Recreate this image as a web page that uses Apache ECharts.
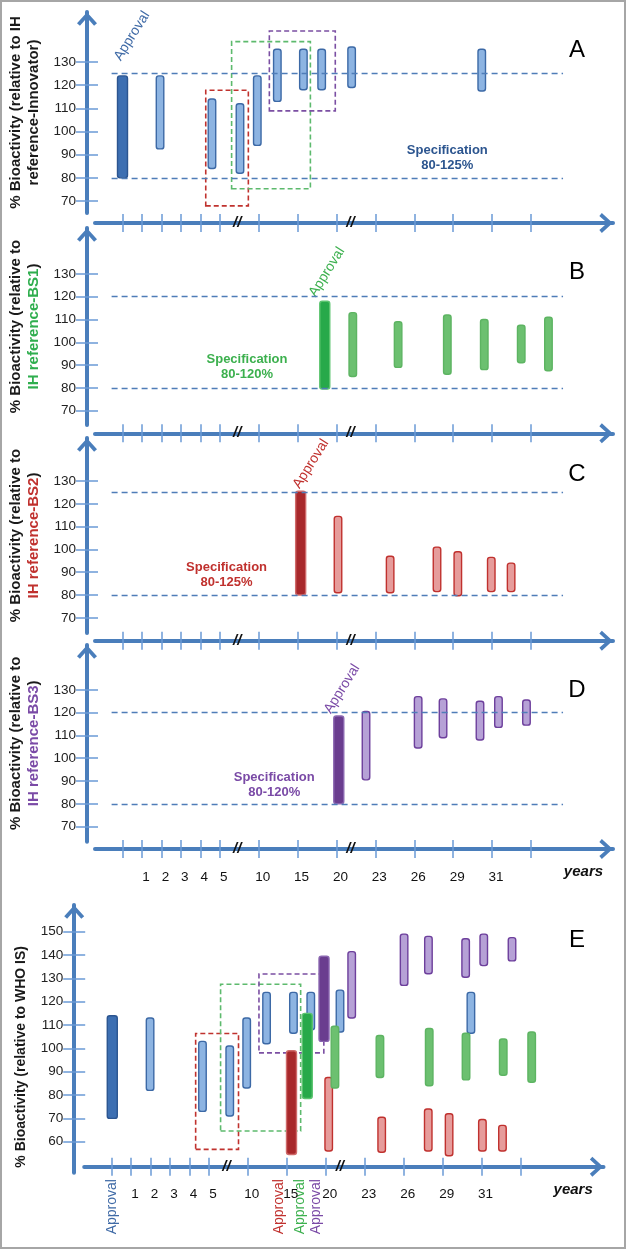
<!DOCTYPE html>
<html><head><meta charset="utf-8">
<script src="https://cdn.jsdelivr.net/npm/echarts@6/dist/echarts.min.js"></script>
<style>html,body{margin:0;padding:0;background:#fff}#c{width:628px;height:1252px}</style>
</head><body><div id="c"></div>
<script>
// ---------------- DATA ----------------
// x positions are "slots" of the broken time axis (tick slots below)
const X_TICK_VALUES = [0,1,2,3,4,5,7,9,11,13,15,17,19,21];
const X_LABEL_VALUES = [1,2,3,4,5,7,9,11,13,15,17,19];
const X_LABEL_TEXTS = ['1','2','3','4','5','10','15','20','23','26','29','31'];
const Y_TICKS_AD = [70,80,90,100,110,120,130];
const Y_TICKS_E = [60,70,80,90,100,110,120,130,140,150];
const AXIS_BREAKS = [5.9, 11.72];
const SPEC_X_RANGE = [-0.56, 22.65];

// [slot, low %, high %]
const A_BLUE_APPROVAL = [[0.0, 80, 124]];
const A_BLUE = [[1.93,92.5,124],[4.6,84,114],[6.04,82,112],[6.93,94,124],[7.96,113,135.5],[9.3,118,135.5],[10.24,118,135.5],[11.78,119,136.5],[18.47,117.5,135.5]];
const B_GREEN_APPROVAL = [[10.4,79.5,118]];
const B_GREEN = [[11.84,85,113],[14.17,89,109],[16.7,86,112],[18.6,88,110],[20.5,91,107.5],[21.9,87.5,111]];
const C_RED_APPROVAL = [[9.16,80,125.5]];
const C_RED = [[11.08,81,114.5],[13.76,81,97],[16.17,81.5,101],[17.24,79.7,99],[18.96,81.5,96.5],[19.98,81.5,94]];
const D_PURPLE_APPROVAL = [[11.12,80,118.5]];
const D_PURPLE = [[12.52,90.5,120.5],[15.2,104.5,127],[16.48,109,126],[18.38,108,125],[19.33,113.5,127],[20.77,114.5,125.5]];
const E_BLUE_APPROVAL = [[0.04,70,114]];
const E_BLUE = [[1.98,82,113],[4.67,73,103],[6.07,71,101],[6.94,83,113],[7.96,102,124],[9.34,106.5,124],[10.23,108,124],[11.73,107,125],[18.45,106.5,124]];
const E_RED_APPROVAL = [[9.24,54.5,99]];
const E_RED = [[11.15,56,87.5],[13.87,55.5,70.5],[16.26,56,74],[17.33,54,72],[19.04,56,69.5],[20.07,56,67]];
const E_GREEN_APPROVAL = [[10.05,78.5,115]];
const E_GREEN = [[11.47,83,109.5],[13.78,87.5,105.5],[16.31,84,108.5],[18.2,86.5,106.5],[20.11,88.5,104],[21.57,85.5,107]];
const E_PURPLE_APPROVAL = [[10.91,103,139.5]];
const E_PURPLE = [[12.33,113,141.5],[15.02,127,149],[16.27,132,148],[18.18,130.5,147],[19.11,135.5,149],[20.56,137.5,147.5]];

const SPEC_A = [80,125], SPEC_B = [80,120], SPEC_C = [80,125], SPEC_D = [80,120];
const SPEC_TEXT = ['80-125%','80-120%','80-125%','80-120%'];
const SPEC_TEXT_POS = [[16.7,88.5],[6.4,89.3],[5.35,88.8],[7.8,88.3]];
const APPROVAL_LABEL_POS = [[0.49,141.2],[10.51,130.8],[9.69,137.5],[11.29,130.4]];
const E_APPROVAL_LABEL_X = {blue:0.03, red:8.62, green:9.66, purple:10.49};
// dashed boxes: [[x0,y0],[x1,y1]]
const A_BOX_RED = [[4.28,67.9],[6.47,117.8]];
const A_BOX_GREEN = [[5.61,75.3],[9.66,138.8]];
const A_BOX_PURPLE = [[7.55,108.9],[10.94,143.4]];
const E_BOX_RED = [[4.32,56.7],[6.52,106.4]];
const E_BOX_GREEN = [[5.6,64.6],[9.71,127.5]];
const E_BOX_PURPLE = [[7.57,98.1],[10.9,131.9]];

// ---------------- STYLE / LAYOUT ----------------
const FONT = "'Liberation Sans', Arial, Helvetica, sans-serif";
const AXIS_COLOR = '#4a7ebb', TICK_COLOR = '#6b9bd6', SPEC_LINE = '#4f7db8';
const COL = {
  blue:  {fill:'#8db4e2', stroke:'#3c69a6', aFill:'#3d6fb2', aStroke:'#2c5590', text:'#3f6aa6'},
  green: {fill:'#6cc070', stroke:'#5db462', aFill:'#27a94a', aStroke:'#5cc470', text:'#3cb04e'},
  red:   {fill:'#e69c9b', stroke:'#c0312e', aFill:'#a8282b', aStroke:'#cf6a6a', text:'#c0312e'},
  purple:{fill:'#b6a1d6', stroke:'#6d3f9c', aFill:'#6a3d8f', aStroke:'#8a66b0', text:'#7a4aa6'}
};
const BOXCOL = {red:'#c0322e', green:'#5dba6d', purple:'#7b4fa3'};
const CHEVRON = 'path://M12,0 L24,13 L20.5,16 L12,6.5 L3.5,16 L0,13 Z';

const LAYOUT = [
  {tip:12,  ybot:213,    xaxisY:223,    y100:131.5,  k:2.317, axisX:87,   left:95,   tipX:613,   x0:122.5, unit:19.45, letterY:50},
  {tip:228, ybot:425,    xaxisY:433.3,  y100:342.3,  k:2.28,  axisX:87,   left:95,   tipX:613,   x0:122.5, unit:19.45, letterY:272},
  {tip:438, ybot:633,    xaxisY:640.7,  y100:549.4,  k:2.28,  axisX:87,   left:95,   tipX:613,   x0:122.5, unit:19.45, letterY:474},
  {tip:645, ybot:841.7,  xaxisY:849,    y100:758.2,  k:2.28,  axisX:87,   left:95,   tipX:613,   x0:122.5, unit:19.45, letterY:690},
  {tip:905, ybot:1172.7, xaxisY:1166.7, y100:1048.4, k:2.333, axisX:74.2, left:84.2, tipX:603.5, x0:111.5, unit:19.48, letterY:940}
];

const PANELS = [
  {letter:'A', groups:[{c:'blue', data:A_BLUE, appr:A_BLUE_APPROVAL}], spec:SPEC_A,
   boxes:[['red',A_BOX_RED],['green',A_BOX_GREEN],['purple',A_BOX_PURPLE]], yTicks:Y_TICKS_AD, labels:false,
   name:'{k|% Bioactivity (relative to IH}\n{k|reference-Innovator)}', nameC:'#222', mainColor:'blue'},
  {letter:'B', groups:[{c:'green', data:B_GREEN, appr:B_GREEN_APPROVAL}], spec:SPEC_B, boxes:[], yTicks:Y_TICKS_AD, labels:false,
   name:'{k|% Bioactivity (relative to}\n{c|IH reference-BS1}{k|)}', nameC:'#2fae4e', mainColor:'green'},
  {letter:'C', groups:[{c:'red', data:C_RED, appr:C_RED_APPROVAL}], spec:SPEC_C, boxes:[], yTicks:Y_TICKS_AD, labels:false,
   name:'{k|% Bioactivity (relative to}\n{c|IH reference-BS2}{k|)}', nameC:'#c0312e', mainColor:'red'},
  {letter:'D', groups:[{c:'purple', data:D_PURPLE, appr:D_PURPLE_APPROVAL}], spec:SPEC_D, boxes:[], yTicks:Y_TICKS_AD, labels:true,
   name:'{k|% Bioactivity (relative to}\n{c|IH reference-BS3}{k|)}', nameC:'#7a4aa6', mainColor:'purple'},
  {letter:'E', groups:[{c:'blue', data:E_BLUE, appr:E_BLUE_APPROVAL},{c:'red', data:E_RED, appr:E_RED_APPROVAL},
                       {c:'green', data:E_GREEN, appr:E_GREEN_APPROVAL},{c:'purple', data:E_PURPLE, appr:E_PURPLE_APPROVAL}],
   spec:null, boxes:[['red',E_BOX_RED],['green',E_BOX_GREEN],['purple',E_BOX_PURPLE]], yTicks:Y_TICKS_E, labels:true,
   name:'{k|% Bioactivity (relative to WHO IS)}', nameC:'#222', mainColor:'blue'}
];

function barRenderer(fill, stroke, w, lw) {
  return function (params, api) {
    const x = api.value(0), lo = api.value(1), hi = api.value(2);
    const pT = api.coord([x, hi]), pB = api.coord([x, lo]);
    return {type:'rect', shape:{x:pT[0]-w/2, y:pT[1], width:w, height:pB[1]-pT[1], r:2.5},
            style:{fill:fill, stroke:stroke, lineWidth:lw}};
  };
}

const grids = [], xAxes = [], yAxes = [], series = [];
PANELS.forEach((P, i) => {
  const L = LAYOUT[i];
  const ymin = 100 - (L.ybot - L.y100) / L.k, ymax = 100 + (L.y100 - L.tip) / L.k;
  const xmin = (L.left - L.x0) / L.unit, xmax = (L.tipX - L.x0) / L.unit;
  grids.push({left:L.left, top:L.tip, width:L.tipX - L.left, height:L.ybot - L.tip, containLabel:false, outerBoundsMode:'none'});
  const xOff = L.xaxisY - L.ybot, yOff = L.left - L.axisX;
  xAxes.push({type:'value', gridIndex:i, position:'bottom', offset:xOff, min:xmin, max:xmax,
    axisLine:{show:true, onZero:false, lineStyle:{color:AXIS_COLOR, width:4}, symbol:['none', CHEVRON], symbolSize:[20,15], symbolOffset:[0,-7]},
    axisTick:{show:true, length:9, customValues:X_TICK_VALUES, lineStyle:{color:TICK_COLOR, width:1.5}},
    axisLabel:{show:P.labels, customValues:X_LABEL_VALUES, margin:21, color:'#111', fontSize:13.5, fontFamily:FONT,
      padding:[0,0,0,8], formatter:v => { const j = X_LABEL_VALUES.indexOf(v); return j >= 0 ? X_LABEL_TEXTS[j] : ''; }},
    splitLine:{show:false}});
  xAxes.push({type:'value', gridIndex:i, position:'bottom', offset:xOff, min:xmin, max:xmax,
    axisLine:{show:false, onZero:false}, axisLabel:{show:false}, splitLine:{show:false},
    axisTick:{show:true, inside:true, length:9, customValues:X_TICK_VALUES, lineStyle:{color:TICK_COLOR, width:1.5}}});
  yAxes.push({type:'value', gridIndex:i, position:'left', offset:yOff, min:ymin, max:ymax,
    axisLine:{show:true, onZero:false, lineStyle:{color:AXIS_COLOR, width:4}, symbol:['none', CHEVRON], symbolSize:[20,15], symbolOffset:[0,-7]},
    axisTick:{show:true, length:11, customValues:P.yTicks, lineStyle:{color:TICK_COLOR, width:1.5}},
    axisLabel:{show:true, customValues:P.yTicks, margin:11, color:'#222', fontSize:13.5, fontFamily:FONT},
    splitLine:{show:false},
    name:P.name, nameLocation:'middle', nameRotate:90, nameGap:(i === 4 ? 37 : 38),
    nameTextStyle:{fontFamily:FONT, lineHeight:18, padding:(i === 4 ? [0, 36, 0, 0] : 0),
      rich:{k:{fontSize:(i === 4 ? 14 : 15), fontWeight:'bold', color:'#1a1a1a', fontFamily:FONT, lineHeight:18},
            c:{fontSize:15, fontWeight:'bold', color:P.nameC, fontFamily:FONT, lineHeight:18}}}});
  yAxes.push({type:'value', gridIndex:i, position:'left', offset:yOff, min:ymin, max:ymax,
    axisLine:{show:false, onZero:false}, axisLabel:{show:false}, splitLine:{show:false},
    axisTick:{show:true, inside:true, length:11, customValues:P.yTicks, lineStyle:{color:TICK_COLOR, width:1.5}}});

  P.groups.forEach((G, gi) => {
    const s = COL[G.c];
    const reg = {type:'custom', xAxisIndex:2*i, yAxisIndex:2*i, data:G.data, encode:{x:0, y:[1,2]},
      renderItem:barRenderer(s.fill, s.stroke, 7.5, 1.4), silent:true, z:2+gi};
    const appr = {type:'custom', xAxisIndex:2*i, yAxisIndex:2*i, data:G.appr, encode:{x:0, y:[1,2]},
      renderItem:barRenderer(s.aFill, s.aStroke, 10, 1.4), silent:true, z:2+gi};
    if (gi === 0) {
      if (P.spec) {
        reg.markLine = {silent:true, symbol:['none','none'], label:{show:false}, animation:false,
          lineStyle:{color:SPEC_LINE, type:[6,4], width:1.3},
          data:P.spec.map(v => [{coord:[SPEC_X_RANGE[0], v]}, {coord:[SPEC_X_RANGE[1], v]}])};
      }
      if (P.boxes.length) {
        reg.markArea = {silent:true, animation:false, label:{show:false},
          data:P.boxes.map(b => [{coord:b[1][0], itemStyle:{color:'rgba(0,0,0,0)', borderColor:BOXCOL[b[0]], borderWidth:1.6, borderType:[5,3]}}, {coord:b[1][1]}])};
      }
    }
    series.push(reg, appr);
  });
});

const chart = echarts.init(document.getElementById('c'), null, {renderer:'canvas', width:628, height:1252});
chart.setOption({animation:false, backgroundColor:'#ffffff', grid:grids, xAxis:xAxes, yAxis:yAxes, series:series});

// ---------------- annotations positioned through the axes ----------------
function px(i, x, y) { return chart.convertToPixel({xAxisIndex:2*i, yAxisIndex:2*i}, [x, y]); }
const g = [];
g.push({type:'rect', shape:{x:1, y:1, width:624, height:1247}, style:{fill:'none', stroke:'#a6a6a6', lineWidth:2}, silent:true});
PANELS.forEach((P, i) => {
  const L = LAYOUT[i];
  g.push({type:'text', x:577, y:L.letterY, style:{text:P.letter, fill:'#000', font:'24px ' + FONT, align:'center', verticalAlign:'middle', textAlign:'center', textVerticalAlign:'middle'}});
  AXIS_BREAKS.forEach(b => {
    const p = px(i, b, 100);
    g.push({type:'text', x:p[0], y:L.xaxisY, z:100, style:{text:'//', fill:'#111', font:'italic bold 15px ' + FONT, align:'center', verticalAlign:'middle', textAlign:'center', textVerticalAlign:'middle'}});
  });
  if (P.labels) {
    const p = px(i, 23.7, 100);
    g.push({type:'text', x:p[0], y:L.xaxisY + 23, style:{text:'years', fill:'#111', font:'italic bold 15px ' + FONT, align:'center', verticalAlign:'middle', textAlign:'center', textVerticalAlign:'middle'}});
  }
  if (i < 4) {
    const c = COL[P.mainColor];
    const sp = px(i, SPEC_TEXT_POS[i][0], SPEC_TEXT_POS[i][1]);
    g.push({type:'text', x:sp[0], y:sp[1], style:{text:'Specification\n' + SPEC_TEXT[i], fill:(i === 0 ? '#2c558f' : c.text), font:'bold 13px ' + FONT, lineHeight:15, align:'center', verticalAlign:'middle', textAlign:'center', textVerticalAlign:'middle'}});
    const ap = px(i, APPROVAL_LABEL_POS[i][0], APPROVAL_LABEL_POS[i][1]);
    g.push({type:'text', x:ap[0], y:ap[1], rotation:Math.PI * 58 / 180, style:{text:'Approval', fill:c.text, font:'14px ' + FONT, align:'center', verticalAlign:'middle', textAlign:'center', textVerticalAlign:'middle'}});
  } else {
    Object.keys(E_APPROVAL_LABEL_X).forEach(k => {
      const p = px(i, E_APPROVAL_LABEL_X[k], 100);
      g.push({type:'text', x:p[0], y:L.xaxisY + 40, rotation:Math.PI / 2, style:{text:'Approval', fill:COL[k].text, font:'14px ' + FONT, align:'center', verticalAlign:'middle', textAlign:'center', textVerticalAlign:'middle'}});
    });
  }
});
chart.setOption({graphic:{elements:g}});
</script></body></html>
